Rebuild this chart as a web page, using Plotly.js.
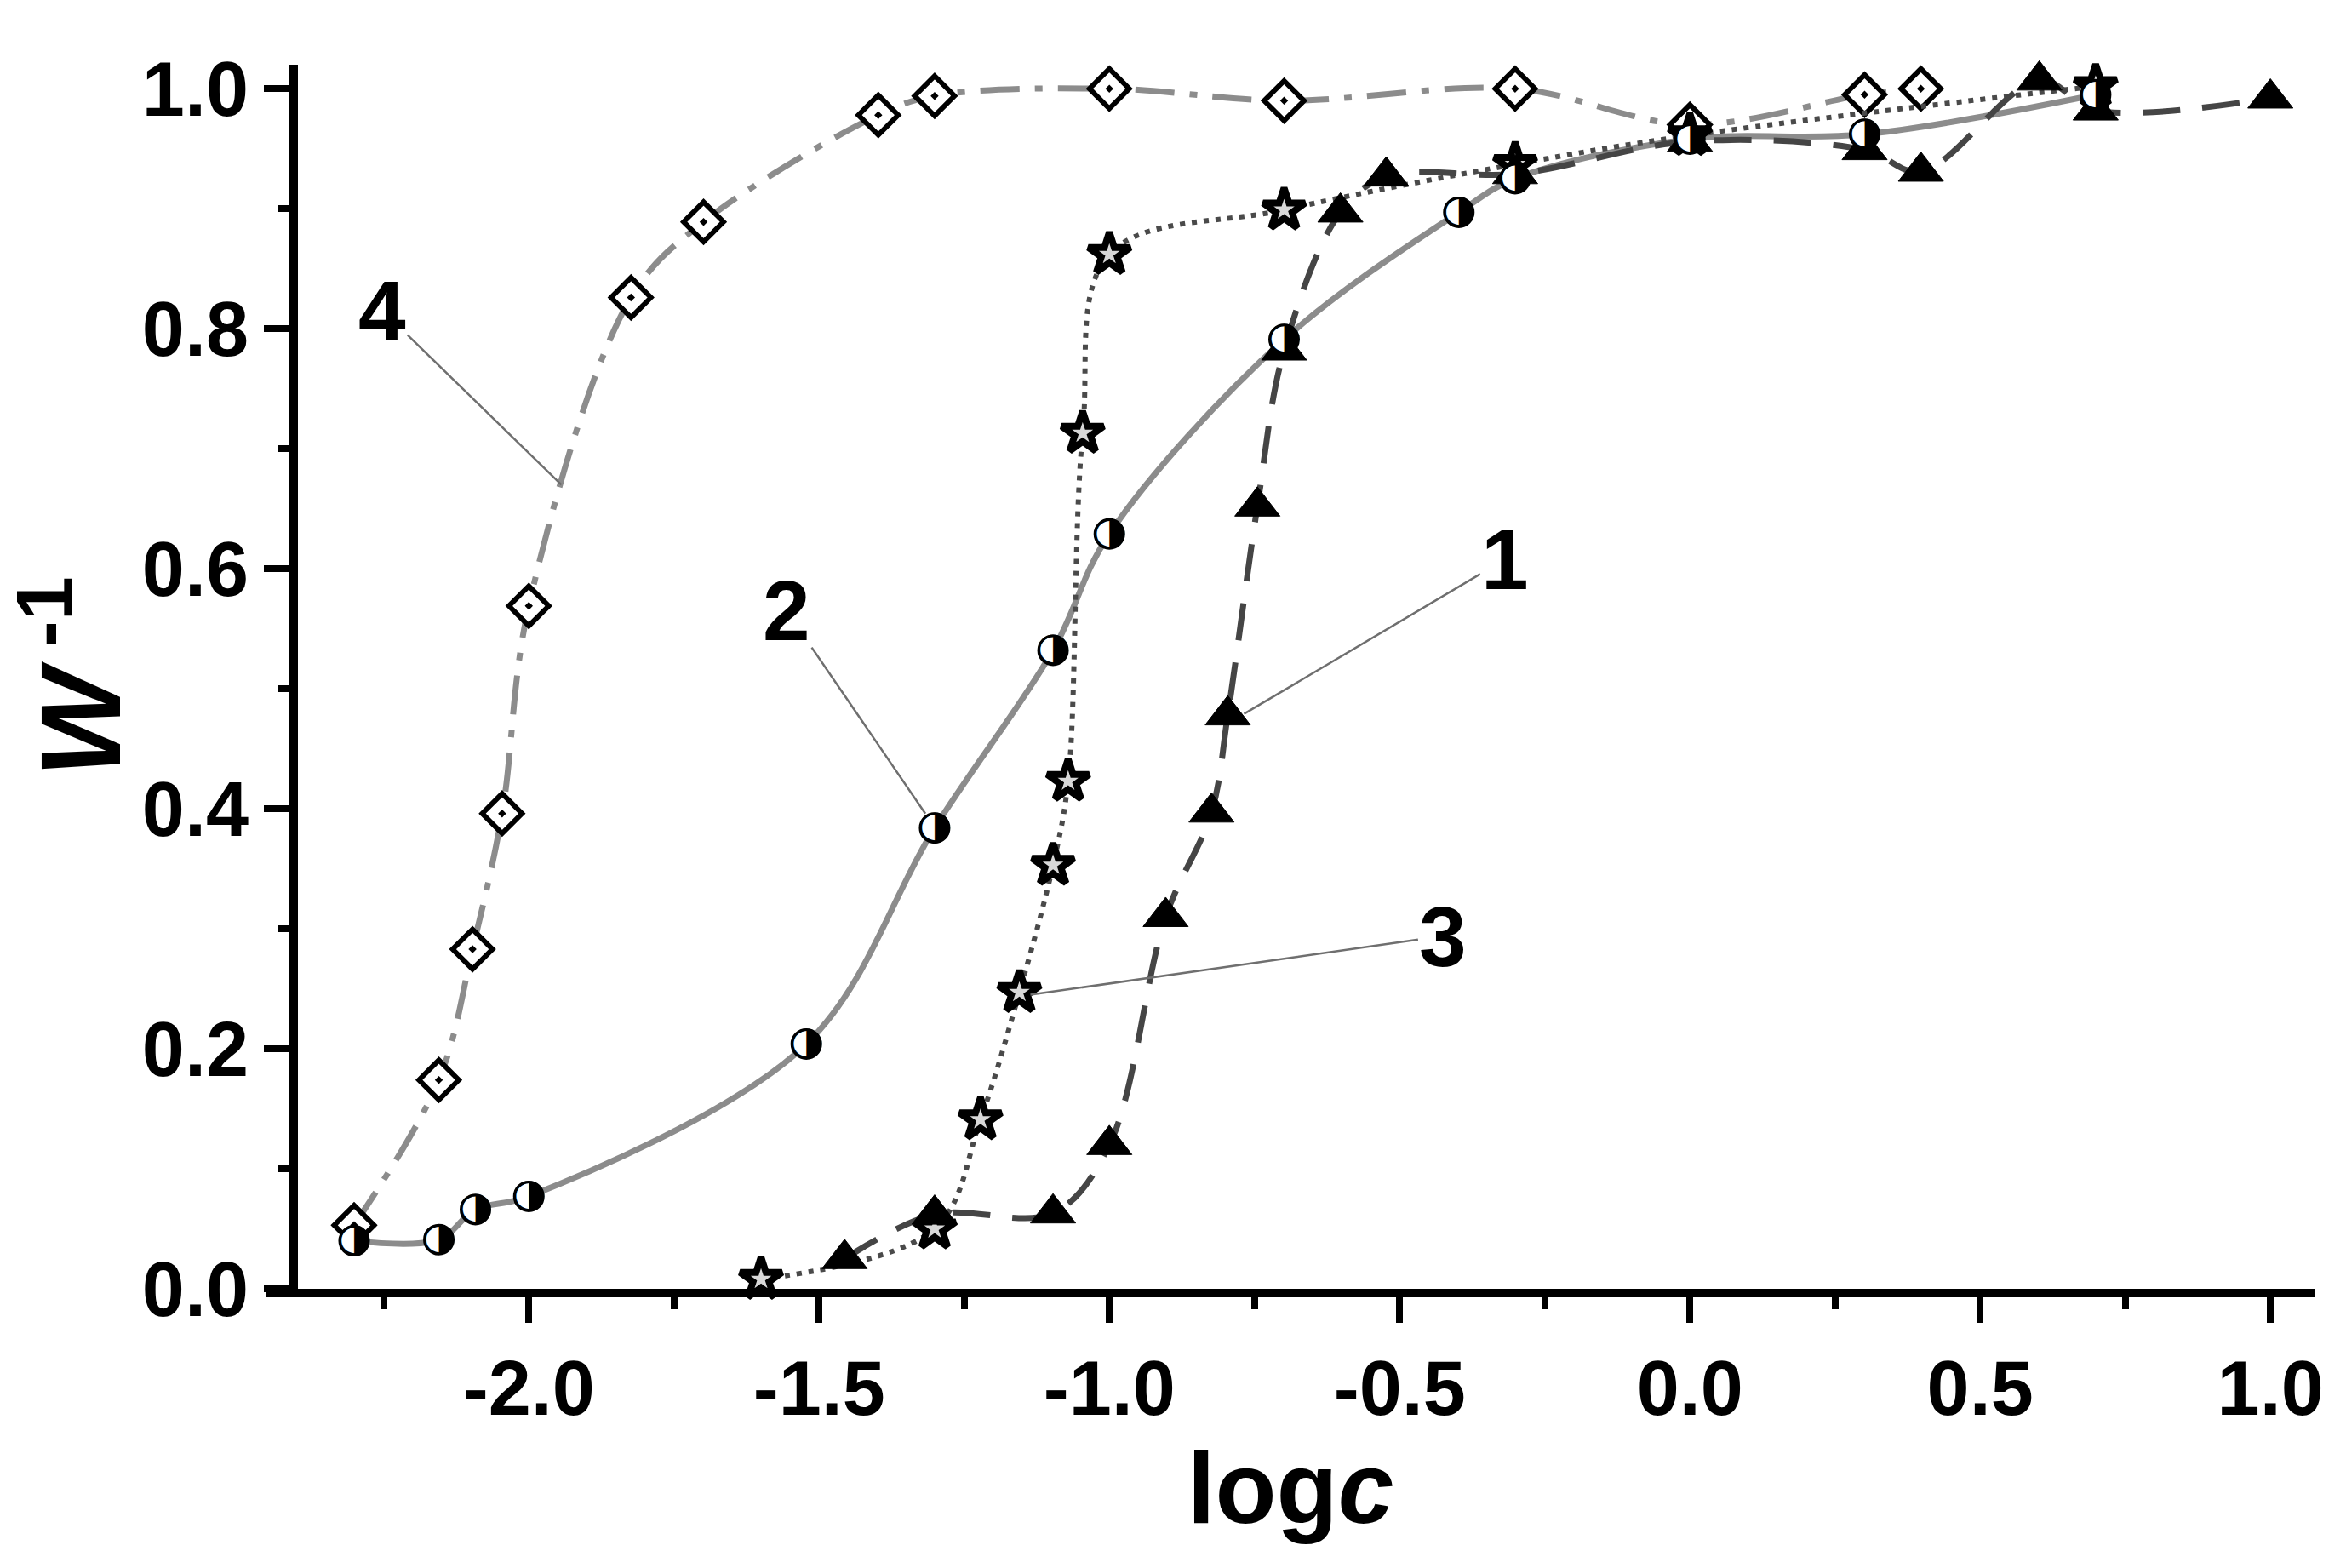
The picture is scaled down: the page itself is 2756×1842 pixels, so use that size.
<!DOCTYPE html>
<html>
<head>
<meta charset="utf-8">
<script src="https://cdn.plot.ly/plotly-3.0.1.min.js"></script>
<style>html,body{margin:0;padding:0;background:#fff;}</style>
</head>
<body>
<div id="chart"></div>
<script>
// ---- data ----
// curve 1: filled triangles, dashed
const s1x = [-1.456, -1.301, -1.097, -1.0, -0.903, -0.824, -0.796, -0.745, -0.699, -0.602, -0.523, -0.301, 0.0, 0.301, 0.398, 0.602, 0.699, 1.0];
const s1y = [0.025, 0.062, 0.063, 0.120, 0.310, 0.397, 0.478, 0.652, 0.782, 0.897, 0.927, 0.929, 0.956, 0.949, 0.931, 1.007, 0.982, 0.992];
// curve 2: half-filled circles, solid
const s2x = [-2.301, -2.155, -2.092, -2.0, -1.522, -1.301, -1.097, -1.0, -0.699, -0.398, -0.301, 0.0, 0.301, 0.699];
const s2y = [0.040, 0.041, 0.066, 0.077, 0.204, 0.384, 0.532, 0.629, 0.791, 0.897, 0.925, 0.958, 0.962, 0.995];
// curve 3: stars, dotted
const s3x = [-1.6, -1.301, -1.222, -1.155, -1.097, -1.071, -1.046, -1.0, -0.699, -0.301, 0.0, 0.699];
const s3y = [0.008, 0.050, 0.141, 0.247, 0.353, 0.423, 0.713, 0.862, 0.899, 0.937, 0.961, 1.002];
// curve 4: dotted diamonds, dash-dot
const s4x = [-2.301, -2.155, -2.097, -2.046, -2.0, -1.824, -1.699, -1.398, -1.301, -1.0, -0.699, -0.301, 0.0, 0.301, 0.398];
const s4y = [0.053, 0.174, 0.283, 0.396, 0.569, 0.826, 0.889, 0.978, 0.994, 1.000, 0.990, 1.000, 0.970, 0.995, 1.000];

const xTickVals = [-2.0, -1.5, -1.0, -0.5, 0.0, 0.5, 1.0];
const xTickText = ['-2.0', '-1.5', '-1.0', '-0.5', '0.0', '0.5', '1.0'];
const yTickVals = [0.0, 0.2, 0.4, 0.6, 0.8, 1.0];
const yTickText = ['0.0', '0.2', '0.4', '0.6', '0.8', '1.0'];

// curve labels: text position and point on the curve the leader line goes to
const labelText = ['1', '2', '3', '4'];
const labelX = [-0.318, -1.556, -0.425, -2.252];
const labelY = [0.608, 0.565, 0.294, 0.815];
const tipX = [-0.768, -1.317, -1.136, -1.944];
const tipY = [0.479, 0.396, 0.245, 0.670];

const FONT = 'Liberation Sans, Arial, Helvetica, sans-serif';

const traces = [
  {
    x: s4x, y: s4y, mode: 'lines+markers', cliponaxis: false,
    line: {color: '#8c8c8c', width: 7, dash: '46px,18px,9px,18px', shape: 'spline', smoothing: 1},
    marker: {symbol: 'diamond-dot', size: 36, color: 'white', line: {color: 'black', width: 6}}
  },
  {
    x: s2x, y: s2y, mode: 'lines', cliponaxis: false,
    line: {color: '#8c8c8c', width: 7, shape: 'spline', smoothing: 1}
  },
  {
    x: s3x, y: s3y, mode: 'lines+markers', cliponaxis: false,
    line: {color: '#4a4a4a', width: 6, dash: '6px,8px', shape: 'spline', smoothing: 1},
    marker: {symbol: 'star', size: 37, color: '#d8d8d8', line: {color: 'black', width: 8}}
  },
  {
    x: s1x, y: s1y, mode: 'lines+markers', cliponaxis: false,
    line: {color: '#454545', width: 7, dash: '44px,26px', shape: 'spline', smoothing: 1},
    marker: {symbol: 'triangle-up', size: 46, color: 'black', line: {color: 'black', width: 1}}
  },
  {
    x: s2x, y: s2y, mode: 'markers', cliponaxis: false,
    marker: {symbol: 'circle', size: 34, color: 'white', line: {color: 'black', width: 3}}
  },
  {
    x: s2x, y: s2y, mode: 'text', cliponaxis: false,
    text: s2x.map(() => '\u25D1'), textposition: 'middle center',
    textfont: {family: 'DejaVu Sans', size: 46, color: 'black'}
  }
];

const annotations = labelText.map((t, i) => ({
  x: tipX[i], y: tipY[i], xref: 'x', yref: 'y',
  ax: labelX[i], ay: labelY[i], axref: 'x', ayref: 'y',
  text: '<b>' + t + '</b>', showarrow: true, arrowhead: 0,
  arrowwidth: 2.5, arrowcolor: '#6f6f6f', standoff: 0, startstandoff: 0,
  font: {family: FONT, size: 100, color: 'black'}
}));

const layout = {
  width: 2756, height: 1842,
  margin: {l: 313, r: 37, t: 76, b: 328},
  paper_bgcolor: 'white', plot_bgcolor: 'white',
  showlegend: false,
  font: {family: FONT, color: 'black'},
  xaxis: {
    range: [-2.452, 1.076], showgrid: false, zeroline: false,
    showline: true, linewidth: 10, linecolor: 'black', mirror: false,
    ticks: 'outside', ticklen: 30, tickwidth: 8, tickcolor: 'black',
    tickmode: 'array', tickvals: xTickVals, ticktext: xTickText,
    tickfont: {family: FONT, size: 90, color: 'black', weight: 'bold'},
    minor: {ticks: 'outside', ticklen: 14, tickwidth: 8, tickcolor: 'black', dtick: 0.25, tick0: 0, showgrid: false},
    title: {text: '<b>log<i>c</i></b>', font: {family: FONT, size: 118, color: 'black'}, standoff: 30},
    automargin: false
  },
  yaxis: {
    range: [0, 1.02], anchor: 'free', position: 0.0133,
    showgrid: false, zeroline: false,
    showline: true, linewidth: 10, linecolor: 'black',
    ticks: 'outside', ticklen: 30, tickwidth: 8, tickcolor: 'black',
    tickmode: 'array', tickvals: yTickVals, ticktext: yTickText,
    tickfont: {family: FONT, size: 90, color: 'black', weight: 'bold'},
    minor: {ticks: 'outside', ticklen: 14, tickwidth: 8, tickcolor: 'black', dtick: 0.1, tick0: 0, showgrid: false},
    title: {text: '<b><i>W</i><sup> -1</sup></b>', font: {family: FONT, size: 134, color: 'black'}, standoff: 40},
    automargin: false
  },
  annotations: annotations
};

Plotly.newPlot('chart', traces, layout, {staticPlot: true, displayModeBar: false});
</script>
</body>
</html>
